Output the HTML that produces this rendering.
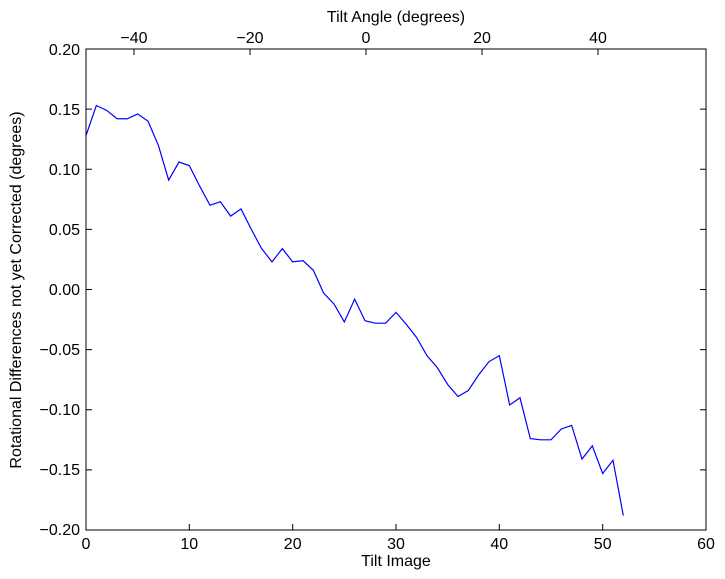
<!DOCTYPE html>
<html><head><meta charset="utf-8"><style>
body{margin:0;background:#fff;}
svg{display:block;font-family:"Liberation Sans",sans-serif;}
</style></head><body>
<svg width="725" height="579" xmlns="http://www.w3.org/2000/svg">
<rect width="725" height="579" fill="#fff"/>
<g transform="translate(86,289.5) scale(10.333,-1202.5)">
<polyline fill="none" stroke="#0000ff" stroke-width="1.2" vector-effect="non-scaling-stroke" points="0,0.128 1,0.153 2,0.149 3,0.142 4,0.142 5,0.146 6,0.140 7,0.120 8,0.091 9,0.106 10,0.103 11,0.086 12,0.070 13,0.073 14,0.061 15,0.067 16,0.050 17,0.034 18,0.023 19,0.034 20,0.023 21,0.024 22,0.016 23,-0.003 24,-0.012 25,-0.027 26,-0.008 27,-0.026 28,-0.028 29,-0.028 30,-0.019 31,-0.029 32,-0.040 33,-0.055 34,-0.065 35,-0.079 36,-0.089 37,-0.084 38,-0.071 39,-0.060 40,-0.055 41,-0.096 42,-0.090 43,-0.124 44,-0.125 45,-0.125 46,-0.116 47,-0.113 48,-0.141 49,-0.130 50,-0.153 51,-0.142 52,-0.188"/>
</g>
<rect x="86" y="49" width="620" height="481" fill="none" stroke="#000" stroke-width="1"/>
<g stroke="#000" stroke-width="1">
<path d="M86,530v-6M189.3,530v-6M292.7,530v-6M396,530v-6M499.3,530v-6M602.7,530v-6M706,530v-6"/>
<path d="M134,49v6M250,49v6M366,49v6M482,49v6M598,49v6"/>
<path d="M86,49h6M86,109.1h6M86,169.3h6M86,229.4h6M86,289.5h6M86,349.6h6M86,409.8h6M86,469.9h6M86,530h6"/>
<path d="M706,49h-6M706,109.1h-6M706,169.3h-6M706,229.4h-6M706,289.5h-6M706,349.6h-6M706,409.8h-6M706,469.9h-6M706,530h-6"/>
</g>
<g font-size="16" fill="#000" text-anchor="middle">
<text x="86" y="549">0</text><text x="189.3" y="549">10</text><text x="292.7" y="549">20</text><text x="396" y="549">30</text><text x="499.3" y="549">40</text><text x="602.7" y="549">50</text><text x="706" y="549">60</text>
<text x="134" y="43">−40</text><text x="250" y="43">−20</text><text x="366" y="43">0</text><text x="482" y="43">20</text><text x="598" y="43">40</text>
<text x="396" y="566">Tilt Image</text>
<text x="396" y="22">Tilt Angle (degrees)</text>
</g>
<g font-size="16" fill="#000" text-anchor="end">
<text x="80" y="55">0.20</text><text x="80" y="115">0.15</text><text x="80" y="175">0.10</text><text x="80" y="235">0.05</text><text x="80" y="295">0.00</text><text x="80" y="355">−0.05</text><text x="80" y="415">−0.10</text><text x="80" y="475">−0.15</text><text x="80" y="535">−0.20</text>
</g>
<text x="21" y="290" font-size="16" text-anchor="middle" transform="rotate(-90 21 290)">Rotational Differences not yet Corrected (degrees)</text>
</svg>
</body></html>
